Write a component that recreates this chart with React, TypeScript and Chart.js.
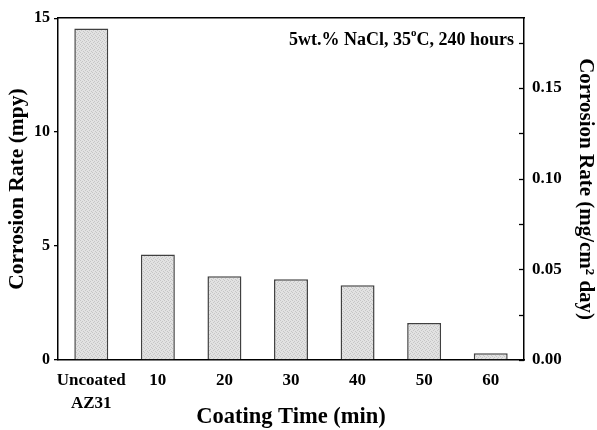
import React, { useEffect, useRef } from "react";
import { Chart, registerables } from "chart.js";

Chart.register(...registerables);

const categories: (string | string[])[] = [["Uncoated", "AZ31"], "10", "20", "30", "40", "50", "60"];
const corrosionMpy = [14.55, 4.63, 3.67, 3.54, 3.28, 1.62, 0.3];
const mpyMax = 15;
const mgMax = 0.1885;
const rightTickValues = [0, 0.025, 0.05, 0.075, 0.1, 0.125, 0.15, 0.175];
const rightLabelValues = [0, 0.05, 0.1, 0.15];

const FONT = "'Liberation Serif', 'Times New Roman', serif";

function makePattern(): CanvasPattern | string {
  const c = document.createElement("canvas");
  c.width = 4;
  c.height = 4;
  const g = c.getContext("2d");
  if (!g) return "#d9d9d9";
  g.fillStyle = "#e2e2e2";
  g.fillRect(0, 0, 4, 4);
  g.fillStyle = "#c6c6c6";
  g.fillRect(0, 0, 1, 1);
  g.fillRect(2, 1, 1, 1);
  g.fillRect(1, 2, 1, 1);
  g.fillRect(3, 3, 1, 1);
  const p = g.createPattern(c, "repeat");
  return p || "#d9d9d9";
}

const overlayPlugin = {
  id: "overlay",
  afterDraw(chart: any) {
    const ctx = chart.ctx;
    const area = chart.chartArea;
    const y1 = chart.scales.y1;
    ctx.save();
    // inward ticks on right axis
    ctx.strokeStyle = "#000";
    ctx.lineWidth = 1.3;
    rightTickValues.forEach((v) => {
      const py = Math.round(y1.getPixelForValue(v)) + 0.5;
      ctx.beginPath();
      ctx.moveTo(area.right - 5, py);
      ctx.lineTo(area.right, py);
      ctx.stroke();
    });
    // annotation
    ctx.fillStyle = "#000";
    ctx.textBaseline = "alphabetic";
    ctx.textAlign = "left";
    const bigFont = "bold 18px " + FONT;
    const smallFont = "bold 11px " + FONT;
    const p1 = "5wt.% NaCl, 35";
    const p2 = "o";
    const p3 = "C, 240 hours";
    ctx.font = bigFont;
    const w1 = ctx.measureText(p1).width;
    const w3 = ctx.measureText(p3).width;
    ctx.font = smallFont;
    const w2 = ctx.measureText(p2).width;
    const right = area.right - 10;
    const base = 45;
    let x = right - (w1 + w2 + w3);
    ctx.font = bigFont;
    ctx.fillText(p1, x, base);
    x += w1;
    ctx.font = smallFont;
    ctx.fillText(p2, x, base - 9);
    x += w2;
    ctx.font = bigFont;
    ctx.fillText(p3, x, base);
    ctx.restore();
  },
};

export default function App() {
  const ref = useRef<HTMLCanvasElement | null>(null);
  useEffect(() => {
    if (!ref.current) return;
    const pattern = makePattern();
    const chart = new Chart(ref.current, {
      type: "bar",
      data: {
        labels: categories as any,
        datasets: [
          {
            data: corrosionMpy,
            backgroundColor: pattern as any,
            borderColor: "#404040",
            borderWidth: 1.5,
            barPercentage: 0.51,
            categoryPercentage: 1,
            xAxisID: "x",
            yAxisID: "y",
          },
        ],
      },
      options: {
        responsive: false,
        animation: false,
        layout: { padding: 0 },
        plugins: { legend: { display: false }, tooltip: { enabled: false } },
        scales: {
          x: {
            position: "bottom",
            grid: { display: false },
            border: { display: true, color: "#000", width: 1.5 },
            ticks: {
              color: "#000",
              font: { family: FONT, size: 17, weight: "bold", lineHeight: 1.3 },
              padding: 2,
              maxRotation: 0,
              autoSkip: false,
            },
            title: {
              display: true,
              text: "Coating Time (min)",
              color: "#000",
              font: { family: FONT, size: 22.5, weight: "bold", lineHeight: 1.1 },
              padding: { top: 0, bottom: 0 },
            },
            afterFit: (s: any) => {
              s.height = 70;
            },
          },
          xTop: {
            type: "category",
            position: "top",
            labels: categories as any,
            grid: { display: false },
            border: { display: true, color: "#000", width: 1.5 },
            ticks: { display: false },
            afterFit: (s: any) => {
              s.height = 17;
            },
          },
          y: {
            position: "left",
            min: 0,
            max: mpyMax,
            ticks: {
              stepSize: 5,
              color: "#000",
              font: { family: FONT, size: 16, weight: "bold" },
              padding: 4,
            },
            grid: {
              display: true,
              drawOnChartArea: false,
              drawTicks: true,
              tickLength: 4,
              color: "#000",
              lineWidth: 1.3,
            },
            border: { display: true, color: "#000", width: 1.5 },
            title: {
              display: true,
              text: "Corrosion Rate (mpy)",
              color: "#000",
              font: { family: FONT, size: 21.5, weight: "bold", lineHeight: 1.1 },
              padding: { top: 6, bottom: 0 },
            },
            afterFit: (s: any) => {
              s.width = 58;
            },
          },
          y1: {
            position: "right",
            min: 0,
            max: mgMax,
            ticks: {
              stepSize: 0.05,
              color: "#000",
              font: { family: FONT, size: 17, weight: "bold" },
              padding: 8,
              callback: (v: any) => {
                const n = Number(v);
                const hit = rightLabelValues.find((r) => Math.abs(r - n) < 1e-6);
                return hit === undefined ? "" : hit.toFixed(2);
              },
            },
            grid: { display: false, drawTicks: false },
            border: { display: true, color: "#000", width: 1.5 },
            title: {
              display: true,
              text: "Corrosion Rate (mg/cm² day)",
              color: "#000",
              font: { family: FONT, size: 21, weight: "bold", lineHeight: 1.1 },
              padding: { top: 0, bottom: 2 },
            },
            afterFit: (s: any) => {
              s.width = 73;
            },
          },
        },
      },
      plugins: [overlayPlugin],
    });
    return () => chart.destroy();
  }, []);
  return (
    <div style={{ position: "fixed", left: 0, top: 0, width: 597, height: 430, background: "#fff" }}>
      <canvas ref={ref} width={597} height={430} style={{ display: "block" }} />
    </div>
  );
}
